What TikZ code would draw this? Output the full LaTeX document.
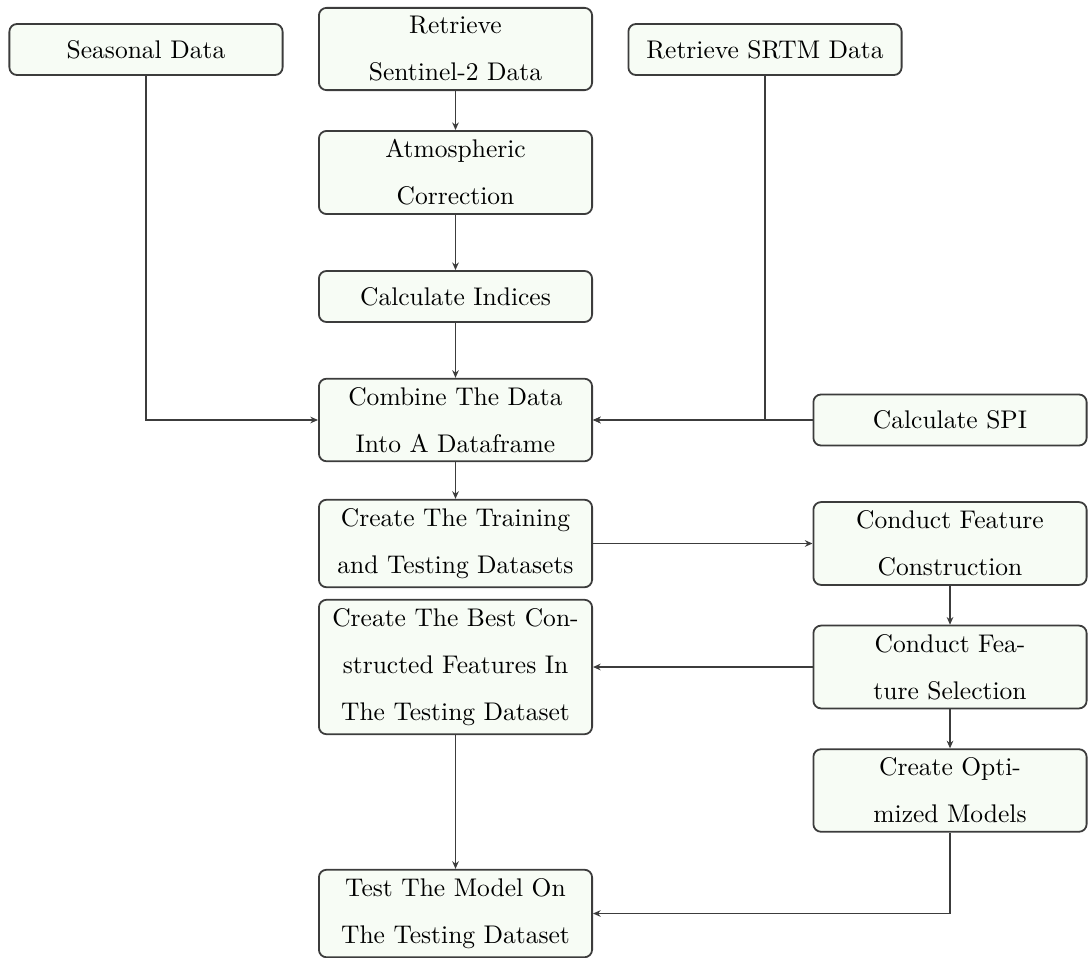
\documentclass[tikz,border=0pt]{standalone}
\usetikzlibrary{arrows.meta}
\definecolor{boxfill}{RGB}{247,252,245}
\definecolor{boxline}{RGB}{60,60,60}
\begin{document}
\begin{tikzpicture}[x=0.392pt,y=-0.392pt,
  procbox/.style={draw=boxline, line width=0.7pt, fill=boxfill, rounded corners=3pt,
    text width=100.3pt, inner sep=3.4pt, align=center, minimum height=20pt,
    font=\fontsize{10}{18.4}\selectfont},
  flow/.style={draw=boxline, line width=0.7pt, -{Stealth[length=3pt,width=2.6pt]}}]
\useasboundingbox (0,0) rectangle (1088,958);

% processing steps
\node[procbox] (seas)   at (146,49.5)   {Seasonal Data};
\node[procbox] (s2)     at (455.5,49)   {Retrieve Sentinel-2 Data};
\node[procbox] (srtm)   at (765,49.5)   {Retrieve SRTM Data};
\node[procbox] (atmos)  at (455.5,172.5) {Atmospheric Correction};
\node[procbox] (idx)    at (455.5,296.5) {Calculate Indices};
\node[procbox] (comb)   at (455.5,420)   {Combine The Data Into A Dataframe};
\node[procbox] (spi)    at (950,420)     {Calculate SPI};
\node[procbox] (train)  at (455.5,543.5) {Create The Training and Testing Datasets};
\node[procbox] (constr) at (950,543.5)   {Conduct Feature Construction};
\node[procbox] (best)   at (455.5,667)   {Create The Best Constructed Features In The Testing Dataset};
\node[procbox] (sel)    at (950,667)     {Conduct Feature Selection};
\node[procbox] (opt)    at (950,790.5)   {Create Optimized Models};
\node[procbox] (test)   at (455.5,913.5) {Test The Model On The Testing Dataset};

% connectors
\draw[flow] (s2) -- (atmos);
\draw[flow] (atmos) -- (idx);
\draw[flow] (idx) -- (comb);
\draw[flow] (comb) -- (train);
\draw[flow] (seas.south) |- (comb.west);
\draw[flow] (srtm.south) |- (comb.east);
\draw[flow] (spi.west) -- (comb.east);
\draw[flow] (train) -- (constr);
\draw[flow] (constr) -- (sel);
\draw[flow] (sel) -- (best);
\draw[flow] (sel) -- (opt);
\draw[flow] (best) -- (test);
\draw[flow] (opt.south) |- (test.east);
\end{tikzpicture}
\end{document}
